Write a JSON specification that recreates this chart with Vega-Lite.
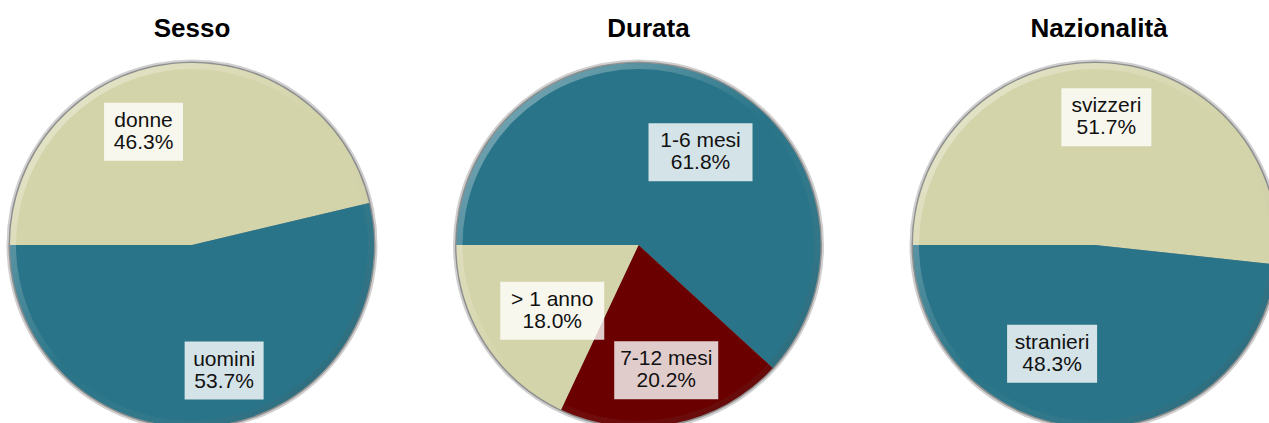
{
  "$schema": "https://vega.github.io/schema/vega-lite/v6.json",
  "background": "white",
  "padding": {"left": 0, "top": 16, "right": 0, "bottom": 0},
  "config": {"view": {"stroke": null}, "concat": {"spacing": 20}},
  "data": {"values": [
    {"pie": "Sesso", "i": 1, "cat": "donne", "value": 46.3},
    {"pie": "Sesso", "i": 2, "cat": "uomini", "value": 53.7},
    {"pie": "Durata", "i": 1, "cat": "1-6 mesi", "value": 61.8},
    {"pie": "Durata", "i": 2, "cat": "7-12 mesi", "value": 20.2},
    {"pie": "Durata", "i": 3, "cat": "> 1 anno", "value": 18.0},
    {"pie": "Nazionalità", "i": 1, "cat": "svizzeri", "value": 51.7},
    {"pie": "Nazionalità", "i": 2, "cat": "stranieri", "value": 48.3}
  ]},
  "hconcat": [
    {
      "width": 384, "height": 380,
      "title": {"text": "Sesso", "anchor": "middle", "fontSize": 26, "font": "Liberation Sans", "fontWeight": "bold", "color": "#000000", "offset": 13},
      "transform": [
        {"filter": "datum.pie == 'Sesso'"},
        {"calculate": "datum.cat + '\\n' + format(datum.value, '.1f') + '%'", "as": "label"},
        {"stack": "value", "groupby": ["pie"], "sort": [{"field": "i", "order": "ascending"}], "as": ["s0", "s1"]},
        {"calculate": "3*PI/2 + 2*PI*(datum.s0 + datum.s1)/200 - 0.206", "as": "ang"},
        {"calculate": "132.5*sin(datum.ang) - 8.5", "as": "lx"},
        {"calculate": "132.5*cos(datum.ang) - 6.5", "as": "ly"}
      ],
      "layer": [
        {"transform": [{"filter": "datum.i == 1"}], "mark": {"type": "arc", "theta": 0, "theta2": 6.2832, "radius": 185.5, "fill": "#cfcfcf"}, "encoding": {}},
        {"transform": [{"filter": "datum.i == 1"}], "mark": {"type": "arc", "theta": 0, "theta2": 6.2832, "radius": 183.5, "fill": "#8f8f8f"}, "encoding": {}},
        {"mark": {"type": "arc", "radius": 182},
         "encoding": {
           "theta": {"field": "value", "type": "quantitative", "stack": true, "scale": {"domain": [0, 100], "range": [4.712389, 10.995574]}},
           "order": {"field": "i", "type": "quantitative"},
           "color": {"field": "cat", "type": "nominal", "legend": null, "scale": {"domain": ["donne", "uomini", "1-6 mesi", "7-12 mesi", "> 1 anno", "svizzeri", "stranieri"], "range": ["#d4d4aa", "#297488", "#297488", "#6b0000", "#d4d4aa", "#d4d4aa", "#297488"]}}
         }},
        {"transform": [{"filter": "datum.i == 1"}], "mark": {"type": "arc", "theta": 0, "theta2": 6.2832, "radius": 182, "radius2": 176, "fill": {"gradient": "linear", "x1": 0, "y1": 0, "x2": 1, "y2": 1, "stops": [{"offset": 0, "color": "rgba(255,255,255,0.45)"}, {"offset": 0.5, "color": "rgba(255,255,255,0)"}, {"offset": 1, "color": "rgba(0,0,0,0.2)"}]}}, "encoding": {}},
        {"mark": {"type": "rect", "fill": "#ffffff", "opacity": 0.8, "xOffset": -39.5, "x2Offset": 39.5, "yOffset": -29, "y2Offset": 29},
         "encoding": {
           "x": {"field": "lx", "type": "quantitative", "scale": {"domain": [-192, 192]}, "axis": null},
           "x2": {"field": "lx"},
           "y": {"field": "ly", "type": "quantitative", "scale": {"domain": [-190, 190]}, "axis": null},
           "y2": {"field": "ly"}
         }},
        {"mark": {"type": "text", "fontSize": 21, "font": "Liberation Sans", "lineBreak": "\n", "lineHeight": 22, "align": "center", "baseline": "middle", "dy": -11, "fill": "#111111"},
         "encoding": {
           "x": {"field": "lx", "type": "quantitative"},
           "y": {"field": "ly", "type": "quantitative"},
           "text": {"field": "label"}
         }}
      ]
    },
    {
      "width": 469, "height": 380,
      "title": {"text": "Durata", "anchor": "middle", "fontSize": 26, "font": "Liberation Sans", "fontWeight": "bold", "color": "#000000", "offset": 13, "dx": 10},
      "transform": [
        {"filter": "datum.pie == 'Durata'"},
        {"calculate": "datum.cat + '\\n' + format(datum.value, '.1f') + '%'", "as": "label"},
        {"stack": "value", "groupby": ["pie"], "sort": [{"field": "i", "order": "ascending"}], "as": ["s0", "s1"]},
        {"calculate": "3*PI/2 + 2*PI*(datum.s0 + datum.s1)/200 + 0.07", "as": "ang"},
        {"calculate": "121*sin(datum.ang) + 14.5", "as": "lx"},
        {"calculate": "121*cos(datum.ang) - 11.8", "as": "ly"}
      ],
      "layer": [
        {"transform": [{"filter": "datum.i == 1"}], "mark": {"type": "arc", "theta": 0, "theta2": 6.2832, "radius": 185.5, "fill": "#cfcfcf"}, "encoding": {}},
        {"transform": [{"filter": "datum.i == 1"}], "mark": {"type": "arc", "theta": 0, "theta2": 6.2832, "radius": 183.5, "fill": "#8f8f8f"}, "encoding": {}},
        {"mark": {"type": "arc", "radius": 182},
         "encoding": {
           "theta": {"field": "value", "type": "quantitative", "stack": true, "scale": {"domain": [0, 100], "range": [4.712389, 10.995574]}},
           "order": {"field": "i", "type": "quantitative"},
           "color": {"field": "cat", "type": "nominal", "legend": null, "scale": {"domain": ["donne", "uomini", "1-6 mesi", "7-12 mesi", "> 1 anno", "svizzeri", "stranieri"], "range": ["#d4d4aa", "#297488", "#297488", "#6b0000", "#d4d4aa", "#d4d4aa", "#297488"]}}
         }},
        {"transform": [{"filter": "datum.i == 1"}], "mark": {"type": "arc", "theta": 0, "theta2": 6.2832, "radius": 182, "radius2": 176, "fill": {"gradient": "linear", "x1": 0, "y1": 0, "x2": 1, "y2": 1, "stops": [{"offset": 0, "color": "rgba(255,255,255,0.45)"}, {"offset": 0.5, "color": "rgba(255,255,255,0)"}, {"offset": 1, "color": "rgba(0,0,0,0.2)"}]}}, "encoding": {}},
        {"mark": {"type": "rect", "fill": "#ffffff", "opacity": 0.8, "xOffset": -52, "x2Offset": 52, "yOffset": -29, "y2Offset": 29},
         "encoding": {
           "x": {"field": "lx", "type": "quantitative", "scale": {"domain": [-234.5, 234.5]}, "axis": null},
           "x2": {"field": "lx"},
           "y": {"field": "ly", "type": "quantitative", "scale": {"domain": [-190, 190]}, "axis": null},
           "y2": {"field": "ly"}
         }},
        {"mark": {"type": "text", "fontSize": 21, "font": "Liberation Sans", "lineBreak": "\n", "lineHeight": 22, "align": "center", "baseline": "middle", "dy": -11, "fill": "#111111"},
         "encoding": {
           "x": {"field": "lx", "type": "quantitative"},
           "y": {"field": "ly", "type": "quantitative"},
           "text": {"field": "label"}
         }}
      ]
    },
    {
      "width": 404, "height": 380,
      "title": {"text": "Nazionalità", "anchor": "middle", "fontSize": 26, "font": "Liberation Sans", "fontWeight": "bold", "color": "#000000", "offset": 13, "dx": 4},
      "transform": [
        {"filter": "datum.pie == 'Nazionalità'"},
        {"calculate": "datum.cat + '\\n' + format(datum.value, '.1f') + '%'", "as": "label"},
        {"stack": "value", "groupby": ["pie"], "sort": [{"field": "i", "order": "ascending"}], "as": ["s0", "s1"]},
        {"calculate": "3*PI/2 + 2*PI*(datum.s0 + datum.s1)/200 + 0.21", "as": "ang"},
        {"calculate": "129*sin(datum.ang) - 19.5", "as": "lx"},
        {"calculate": "129*cos(datum.ang) + 10", "as": "ly"}
      ],
      "layer": [
        {"transform": [{"filter": "datum.i == 1"}], "mark": {"type": "arc", "theta": 0, "theta2": 6.2832, "radius": 185.5, "fill": "#cfcfcf"}, "encoding": {}},
        {"transform": [{"filter": "datum.i == 1"}], "mark": {"type": "arc", "theta": 0, "theta2": 6.2832, "radius": 183.5, "fill": "#8f8f8f"}, "encoding": {}},
        {"mark": {"type": "arc", "radius": 182},
         "encoding": {
           "theta": {"field": "value", "type": "quantitative", "stack": true, "scale": {"domain": [0, 100], "range": [4.712389, 10.995574]}},
           "order": {"field": "i", "type": "quantitative"},
           "color": {"field": "cat", "type": "nominal", "legend": null, "scale": {"domain": ["donne", "uomini", "1-6 mesi", "7-12 mesi", "> 1 anno", "svizzeri", "stranieri"], "range": ["#d4d4aa", "#297488", "#297488", "#6b0000", "#d4d4aa", "#d4d4aa", "#297488"]}}
         }},
        {"transform": [{"filter": "datum.i == 1"}], "mark": {"type": "arc", "theta": 0, "theta2": 6.2832, "radius": 182, "radius2": 176, "fill": {"gradient": "linear", "x1": 0, "y1": 0, "x2": 1, "y2": 1, "stops": [{"offset": 0, "color": "rgba(255,255,255,0.45)"}, {"offset": 0.5, "color": "rgba(255,255,255,0)"}, {"offset": 1, "color": "rgba(0,0,0,0.2)"}]}}, "encoding": {}},
        {"mark": {"type": "rect", "fill": "#ffffff", "opacity": 0.8, "xOffset": -45, "x2Offset": 45, "yOffset": -29, "y2Offset": 29},
         "encoding": {
           "x": {"field": "lx", "type": "quantitative", "scale": {"domain": [-202, 202]}, "axis": null},
           "x2": {"field": "lx"},
           "y": {"field": "ly", "type": "quantitative", "scale": {"domain": [-190, 190]}, "axis": null},
           "y2": {"field": "ly"}
         }},
        {"mark": {"type": "text", "fontSize": 21, "font": "Liberation Sans", "lineBreak": "\n", "lineHeight": 22, "align": "center", "baseline": "middle", "dy": -11, "fill": "#111111"},
         "encoding": {
           "x": {"field": "lx", "type": "quantitative"},
           "y": {"field": "ly", "type": "quantitative"},
           "text": {"field": "label"}
         }}
      ]
    }
  ]
}
